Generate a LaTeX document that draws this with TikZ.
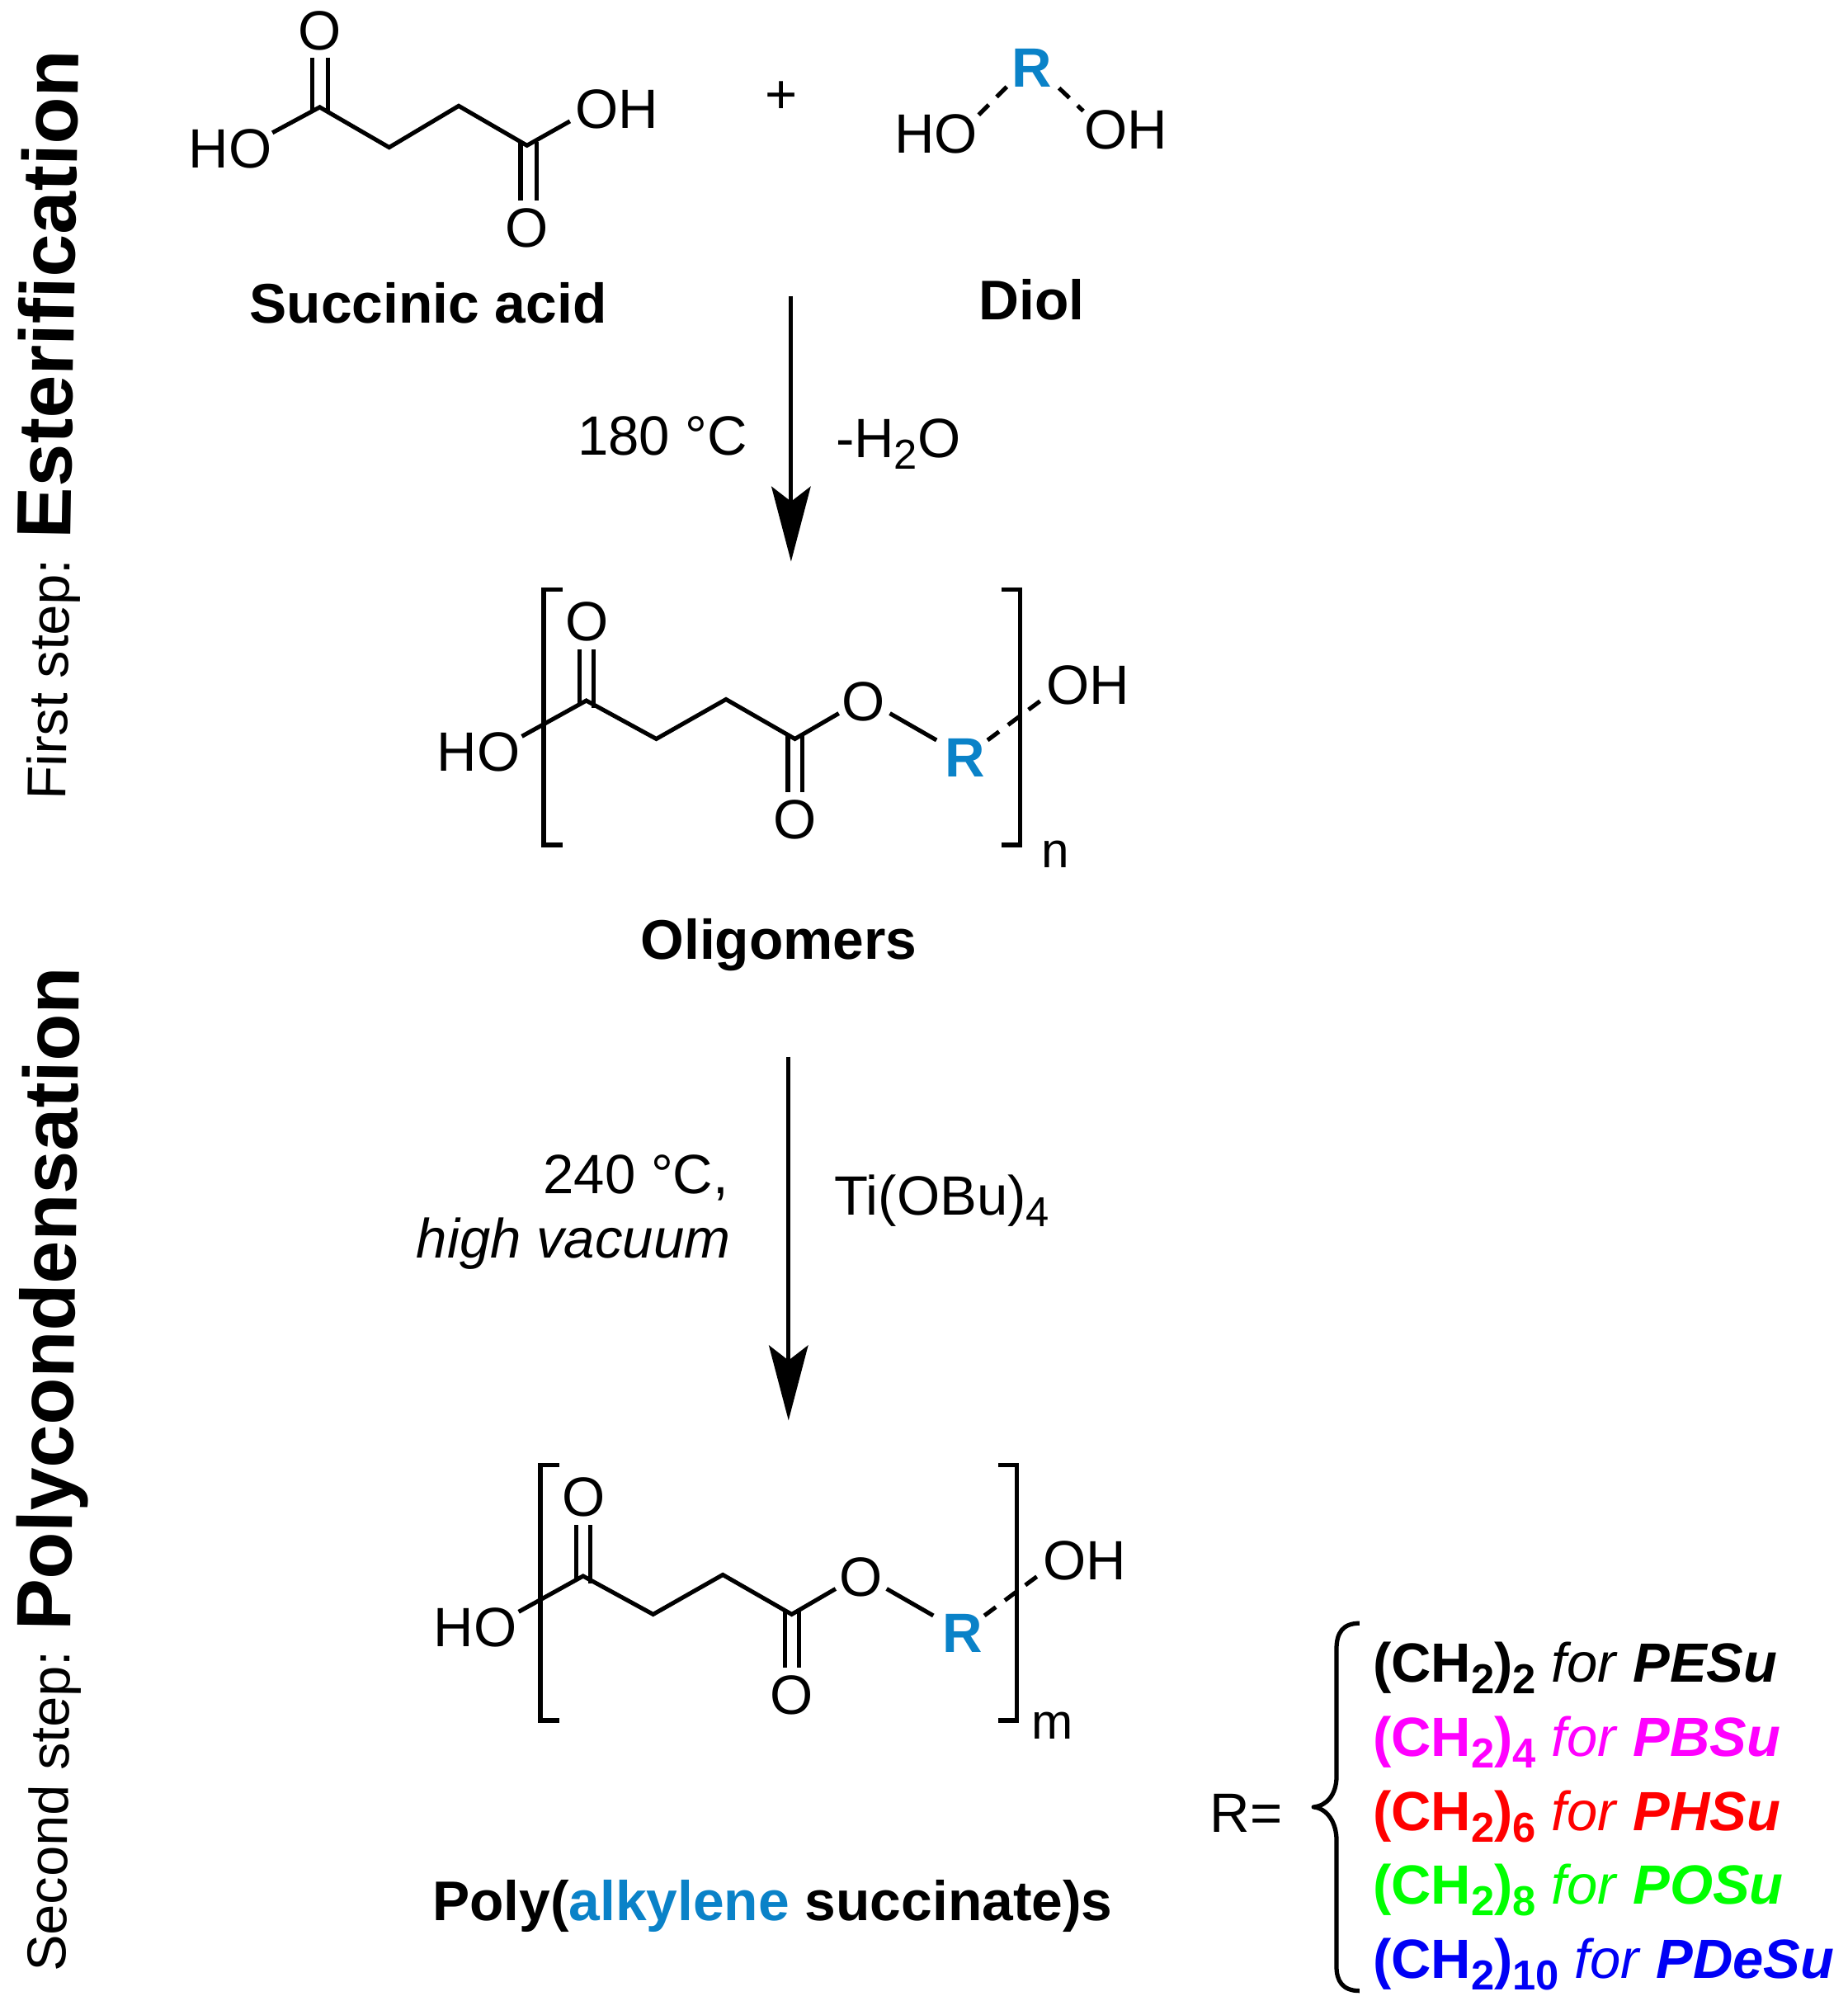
\documentclass[tikz,border=0pt]{standalone}
\usepackage{fontspec}
\setmainfont{Liberation Sans}
\usetikzlibrary{arrows.meta}
\definecolor{rblue}{HTML}{0A82C8}
\definecolor{cmag}{HTML}{FF00FF}
\definecolor{cred}{HTML}{FF0000}
\definecolor{cgreen}{HTML}{00FF00}
\definecolor{cblue}{HTML}{0000F5}
\newcommand{\lowsub}[1]{\raisebox{-4.5pt}{\fontsize{16.4}{16}\selectfont #1}}
\tikzset{
  lbl/.style={inner sep=0pt,outer sep=0pt,anchor=base,font=\fontsize{21.7}{24}\selectfont},
  lblw/.style={lbl,anchor=base west},
  lble/.style={lbl,anchor=base east},
  head/.style={lbl,font=\fontsize{21.9}{24}\selectfont\bfseries},
  rgroup/.style={lbl,text=rblue,font=\fontsize{21.7}{24}\selectfont\bfseries},
  idx/.style={lbl,font=\fontsize{19.5}{22}\selectfont},
  rowlbl/.style={lblw,font=\fontsize{21.65}{24}\selectfont},
  sidelbl/.style={inner sep=0pt,outer sep=0pt,anchor=base west,font=\fontsize{21.5}{24}\selectfont},
  bond/.style={line width=1.65pt,black},
  dashbond/.style={line width=1.65pt,black,dash pattern=on 5.6pt off 4.4pt},
  brack/.style={line width=1.8pt,black},
  rxn/.style={line width=1.65pt,black,-{Stealth[length=29.5pt,width=15.5pt,inset=6pt,line width=0pt]}}
}
\newcommand{\repeatunit}[3]{%
  \node[lblw] (#1ho) at (342.5,604) {HO};
  \node[lbl] (#1otop) at (460,502.4) {O};
  \node[lbl] (#1obot) at (623,657.5) {O};
  \node[lbl] (#1oest) at (677,564.9) {O};
  \node[rgroup] (#1r) at (756.6,608.8) {R};
  \node[lblw] (#1oh) at (820,551.8) {OH};
  \node[idx] (#1idx) at (827,#3) {#2};
  \coordinate (#1c1) at (459.5,549);
  \coordinate (#1c2) at (514.4,579);
  \coordinate (#1c3) at (569,548);
  \coordinate (#1c4) at (623,579);
  \coordinate (#1b0) at (409,577);
  \coordinate (#1b1) at (657.4,559);
  \coordinate (#1b2) at (697.4,559);
  \coordinate (#1b3) at (734,580);
  \coordinate (#1b4) at (774,580);
  \coordinate (#1b5) at (817,548);
  \draw[bond] (#1b0) -- (#1c1) -- (#1c2) -- (#1c3) -- (#1c4) -- (#1b1);
  \draw[bond] (#1b2) -- (#1b3);
  \draw[dashbond] (#1b4) -- (#1b5);
  \coordinate (#1d1) at (454,509);
  \coordinate (#1d2) at (454,552);
  \coordinate (#1d3) at (465.4,509);
  \coordinate (#1d4) at (465.4,555);
  \coordinate (#1d5) at (617.5,576);
  \coordinate (#1d6) at (617.5,620.6);
  \coordinate (#1d7) at (629,576);
  \coordinate (#1d8) at (629,620.6);
  \draw[bond] (#1d1) -- (#1d2);
  \draw[bond] (#1d3) -- (#1d4);
  \draw[bond] (#1d5) -- (#1d6);
  \draw[bond] (#1d7) -- (#1d8);
  \coordinate (#1l1) at (441,462);
  \coordinate (#1l2) at (426,462);
  \coordinate (#1l3) at (426,662);
  \coordinate (#1l4) at (441,662);
  \coordinate (#1r1) at (785,462);
  \coordinate (#1r2) at (799.5,462);
  \coordinate (#1r3) at (799.5,662);
  \coordinate (#1r4) at (785,662);
  \draw[brack] (#1l1) -- (#1l2) -- (#1l3) -- (#1l4);
  \draw[brack] (#1r1) -- (#1r2) -- (#1r3) -- (#1r4);
}
\begin{document}
\begin{tikzpicture}[x=0.5pt,y=-0.5pt]
\useasboundingbox (0,0) rectangle (1447.8,1568);

% side labels
\node[sidelbl,rotate=89] (first) at (51.5,627) {First step: \fontsize{30.2}{32}\selectfont\bfseries Esterification};
\node[sidelbl,rotate=89.2] (second) at (51.5,1545) {Second step: \fontsize{30.2}{32}\selectfont\bfseries Polycondensation};

% succinic acid
\node[lbl] (sao1) at (250.6,39) {O};
\node[lbl] (sao2) at (413,193.5) {O};
\node[lblw] (saho) at (148,131.4) {HO};
\node[lblw] (saoh) at (451,100.5) {OH};
\coordinate (sa1) at (250.6,84);
\coordinate (sa2) at (305,115.5);
\coordinate (sa3) at (359.5,83);
\coordinate (sa4) at (413,114);
\coordinate (sab1) at (213.5,104);
\coordinate (sab2) at (446.7,95);
\draw[bond] (sab1) -- (sa1) -- (sa2) -- (sa3) -- (sa4) -- (sab2);
\coordinate (sad1) at (244.5,45);
\coordinate (sad2) at (244.5,87);
\coordinate (sad3) at (256.8,45);
\coordinate (sad4) at (256.8,87);
\coordinate (sad5) at (408,111);
\coordinate (sad6) at (408,157);
\coordinate (sad7) at (420.7,111);
\coordinate (sad8) at (420.7,157);
\draw[bond] (sad1) -- (sad2);
\draw[bond] (sad3) -- (sad4);
\draw[bond] (sad5) -- (sad6);
\draw[bond] (sad7) -- (sad8);

\node[lbl] (plus) at (612.5,89) {+};

% diol
\node[rgroup] (dr) at (809,68.4) {R};
\node[lblw] (dho) at (701,120) {HO};
\node[lblw] (doh) at (850,117) {OH};
\coordinate (db1) at (789,68);
\coordinate (db2) at (767,90);
\coordinate (db3) at (830,69);
\coordinate (db4) at (849,87);
\draw[dashbond] (db1) -- (db2);
\draw[dashbond] (db3) -- (db4);

\node[head] (lsa) at (335.6,253) {Succinic acid};
\node[head] (ldiol) at (808.6,250.5) {Diol};

% first arrow
\coordinate (a1s) at (620,232);
\coordinate (a1e) at (620,440);
\draw[rxn] (a1s) -- (a1e);
\node[lble] (t180) at (586,356.7) {180 °C};
\node[lblw] (th2o) at (655,358.5) {-H\lowsub{2}O};

% oligomers
\repeatunit{ol}{n}{680}
\node[head] (lol) at (610.4,751.5) {Oligomers};

% second arrow
\coordinate (a2s) at (618,828);
\coordinate (a2e) at (618,1113);
\draw[rxn] (a2s) -- (a2e);
\node[lble] (t240) at (571,935) {240 °C,};
\node[lble,font=\fontsize{21.7}{24}\selectfont\itshape] (tvac) at (572.5,985.5) {high vacuum};
\node[lblw] (tti) at (654,952) {Ti(OBu)\lowsub{4}};

% polymer
\begin{scope}[shift={(-2.5,686)}]
\repeatunit{po}{m}{677}
\end{scope}
\node[head] (lpo) at (605.4,1505) {Poly(\textcolor{rblue}{alkylene} succinate)s};

% R definitions
\node[lbl] (req) at (976.6,1436) {R=};
\draw[line width=1.7pt,line join=round] (1065.5,1272) .. controls (1052,1272) and (1047.5,1280) .. (1047.5,1292)
  -- (1047.5,1392) .. controls (1047.5,1406) and (1040,1415) .. (1029.5,1416)
  .. controls (1040,1417) and (1047.5,1428) .. (1047.5,1442)
  -- (1047.5,1541) .. controls (1047.5,1552) and (1052,1560) .. (1065.5,1560);
\node[rowlbl] (r2) at (1076,1318) {\textbf{(CH\lowsub{2})\lowsub{2}} \textit{for} \textbf{\textit{PESu}}};
\node[rowlbl,text=cmag] (r4) at (1076,1376) {\textbf{(CH\lowsub{2})\lowsub{4}} \textit{for} \textbf{\textit{PBSu}}};
\node[rowlbl,text=cred] (r6) at (1076,1434.3) {\textbf{(CH\lowsub{2})\lowsub{6}} \textit{for} \textbf{\textit{PHSu}}};
\node[rowlbl,text=cgreen] (r8) at (1076,1492.2) {\textbf{(CH\lowsub{2})\lowsub{8}} \textit{for} \textbf{\textit{POSu}}};
\node[rowlbl,text=cblue] (r10) at (1076,1550) {\textbf{(CH\lowsub{2})\lowsub{10}} \textit{for} \textbf{\textit{PDeSu}}};
\end{tikzpicture}
\end{document}
